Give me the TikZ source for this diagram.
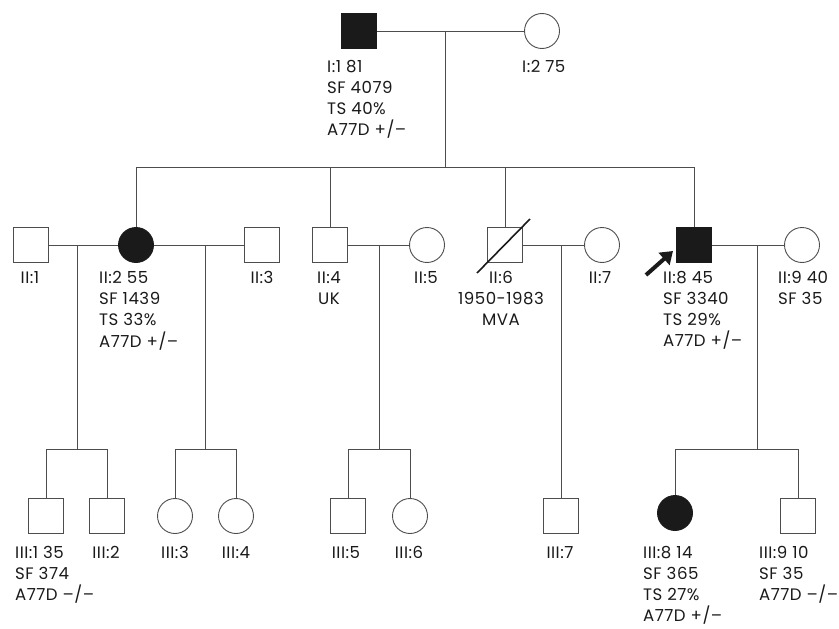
\documentclass[tikz,border=0pt]{standalone}
\usepackage{fontspec}
\setmainfont{Poppins}[LetterSpace=3]
\usetikzlibrary{arrows.meta}
\definecolor{Ink}{HTML}{1A1A1A}
\definecolor{Rule}{HTML}{4D4D4D}
\tikzset{
  male/.style={rectangle,draw=Rule,line width=0.9pt,minimum size=35pt,inner sep=0pt},
  female/.style={circle,draw=Rule,line width=0.9pt,minimum size=35pt,inner sep=0pt},
  hit/.style={fill=Ink,draw=Ink},
  tag/.style={inner sep=0pt,align=left,anchor=north west,text=Ink,
    font=\fontsize{16.6}{21.2}\selectfont},
  ctag/.style={tag,align=center,anchor=north},
  kin/.style={draw=Rule,line width=0.8pt}
}

\begin{document}
\begin{tikzpicture}[x=1pt,y=-1pt]
  \useasboundingbox (0,0) rectangle (839,629);

  % generation I
  \node[male,hit] (I1) at (359,31) {};
  \node[female] (I2) at (542,31) {};
  \coordinate (mI) at (445,31);
  \coordinate (sI) at (445,167);

  % generation II
  \node[male] (II1) at (31,245) {};
  \node[female,hit] (II2) at (136,245) {};
  \node[male] (II3) at (262,245) {};
  \node[male] (II4) at (330,245) {};
  \node[female] (II5) at (427,245) {};
  \node[male] (II6) at (505,245) {};
  \node[female] (II7) at (602,245) {};
  \node[male,hit] (II8) at (694,245) {};
  \node[female] (II9) at (802,245) {};
  \coordinate (m1) at (77,245);   \coordinate (s1) at (77,449);
  \coordinate (m2) at (205,245);  \coordinate (s2) at (205,449);
  \coordinate (m3) at (379,245);  \coordinate (s3) at (379,449);
  \coordinate (m4) at (561,245);
  \coordinate (m5) at (757,245);  \coordinate (s5) at (757,449);

  % generation III
  \node[male] (III1) at (46,516) {};
  \node[male] (III2) at (107,516) {};
  \node[female] (III3) at (175,516) {};
  \node[female] (III4) at (236,516) {};
  \node[male] (III5) at (348,516) {};
  \node[female] (III6) at (410,516) {};
  \node[male] (III7) at (561,516) {};
  \node[female,hit] (III8) at (675,513) {};
  \node[male] (III9) at (798,516) {};

  % lines of descent
  \draw[kin] (I1) -- (I2);
  \draw[kin] (mI) -- (sI);
  \draw[kin] (II2|-sI) -- (II8|-sI);
  \foreach \k in {II2,II4,II6,II8}
    \draw[kin] (\k) -- (\k|-sI);
  \draw[kin] (II1) -- (II2);
  \draw[kin] (II2) -- (II3);
  \draw[kin] (II4) -- (II5);
  \draw[kin] (II6) -- (II7);
  \draw[kin] (II8) -- (II9);
  \foreach \m/\s/\a/\b in {m1/s1/III1/III2,m2/s2/III3/III4,m3/s3/III5/III6,m5/s5/III8/III9}{
    \draw[kin] (\m) -- (\s);
    \draw[kin] (\a|-\s) -- (\b|-\s);
    \draw[kin] (\a|-\s) -- (\a);
    \draw[kin] (\b|-\s) -- (\b);
  }
  \draw[kin] (m4) -- (III7);

  % deceased and proband
  \draw[Ink,line width=1.6pt] ([shift={(-28,28)}]II6.center) -- ([shift={(25,-26)}]II6.center);
  \draw[Ink,line width=4pt,-{Triangle[length=12pt,width=16pt]}]
    ([shift={(-48,30)}]II8.center) -- ([shift={(-21,6)}]II8.center);

  % labels
  \node[tag] (tI1) at (327,60) {I:1 81\\SF 4079\\TS 40\%\\A77D +/–};
  \node[tag] (tI2) at (522,60) {I:2 75};

  \node[ctag] (tII1) at (30,271) {II:1};
  \node[tag] (tII2) at (99,271) {II:2 55\\SF 1439\\TS 33\%\\A77D +/–};
  \node[ctag] (tII3) at (262,271) {II:3};
  \node[ctag] (tII4) at (329,271) {II:4\\UK};
  \node[ctag] (tII5) at (426,271) {II:5};
  \node[ctag] (tII6) at (501,271) {II:6\\1950-1983\\MVA};
  \node[ctag] (tII7) at (600,271) {II:7};
  \node[tag] (tII8) at (663,271) {II:8 45\\SF 3340\\TS 29\%\\A77D +/–};
  \node[tag] (tII9) at (778,271) {II:9 40\\SF 35};

  \node[tag] (tIII1) at (15,546) {III:1 35\\SF 374\\A77D –/–};
  \node[ctag] (tIII2) at (106,546) {III:2};
  \node[ctag] (tIII3) at (175,546) {III:3};
  \node[ctag] (tIII4) at (236,546) {III:4};
  \node[ctag] (tIII5) at (346,546) {III:5};
  \node[ctag] (tIII6) at (409,546) {III:6};
  \node[ctag] (tIII7) at (560,546) {III:7};
  \node[tag] (tIII8) at (643,546) {III:8 14\\SF 365\\TS 27\%\\A77D +/–};
  \node[tag] (tIII9) at (759,546) {III:9 10\\SF 35\\A77D –/–};
\end{tikzpicture}
\end{document}
